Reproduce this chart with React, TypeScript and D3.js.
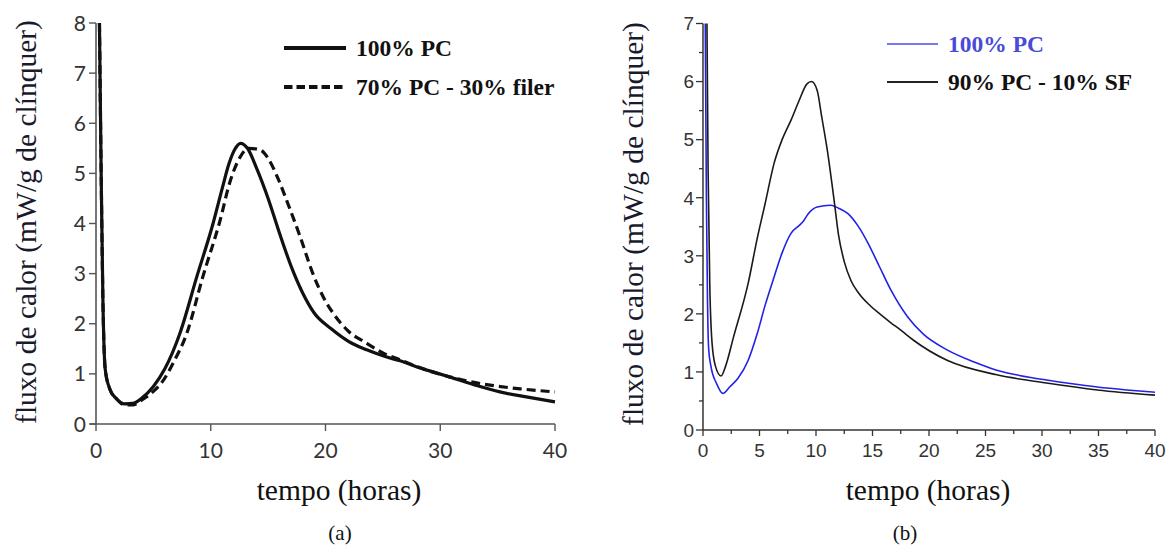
import React from "react";
import * as d3 from "d3";

// ---------- data (a) ----------
const tA_pc = [0.3, 0.45, 0.6, 0.8, 1.2, 1.8, 2.5, 3.2, 4.0, 5.0, 6.0, 7.3, 8.8, 10.2, 11.0, 11.6, 12.1, 12.6, 13.2, 14.0, 15.0, 16.0, 17.0, 18.0, 19.0, 20.5, 22.0, 23.6, 25.0, 26.5, 28.5, 30.8, 33.0, 35.2, 37.5, 40.0];
const vA_pc = [8.0, 5.0, 2.5, 1.1, 0.7, 0.5, 0.4, 0.41, 0.52, 0.75, 1.1, 1.8, 2.95, 4.0, 4.7, 5.2, 5.48, 5.6, 5.5, 5.1, 4.5, 3.8, 3.15, 2.62, 2.22, 1.9, 1.65, 1.48, 1.36, 1.26, 1.1, 0.94, 0.78, 0.64, 0.54, 0.44];
const tA_filer = [0.3, 0.45, 0.6, 0.8, 1.2, 1.8, 2.5, 3.2, 4.0, 5.0, 5.8, 6.8, 7.9, 9.3, 10.8, 11.7, 12.5, 13.3, 14.3, 15.0, 15.8, 16.8, 17.8, 18.9, 20.0, 20.7, 22.0, 23.6, 25.0, 26.5, 28.5, 30.5, 32.3, 34.5, 37.0, 40.0];
const vA_filer = [8.0, 5.0, 2.5, 1.1, 0.7, 0.5, 0.38, 0.38, 0.48, 0.65, 0.85, 1.25, 1.8, 2.93, 4.05, 4.85, 5.3, 5.5, 5.47, 5.3, 4.93, 4.35, 3.73, 3.0, 2.45, 2.2, 1.85, 1.61, 1.42, 1.28, 1.1, 0.96, 0.86, 0.77, 0.7, 0.64];
const xTicksA = [0, 10, 20, 30, 40];
const yTicksA = [0, 1, 2, 3, 4, 5, 6, 7, 8];

// ---------- data (b) ----------
const tB_pc = [0.2, 0.3, 0.4, 0.5, 0.7, 1.2, 1.75, 2.4, 3.1, 4.0, 4.8, 5.5, 6.3, 7.0, 7.8, 8.5, 8.9, 9.3, 10.1, 11.3, 12.0, 12.8, 13.7, 14.6, 15.6, 16.6, 18.1, 19.5, 21.6, 24.0, 26.0, 28.0, 30.4, 32.5, 34.9, 37.5, 40.0];
const vB_pc = [7.0, 4.0, 2.2, 1.4, 1.1, 0.8, 0.63, 0.75, 0.89, 1.2, 1.66, 2.15, 2.64, 3.05, 3.39, 3.52, 3.6, 3.72, 3.84, 3.87, 3.82, 3.73, 3.52, 3.22, 2.82, 2.42, 1.95, 1.65, 1.38, 1.17, 1.03, 0.94, 0.86, 0.8, 0.74, 0.69, 0.65];
const tB_sf = [0.35, 0.45, 0.6, 0.8, 1.1, 1.6, 2.0, 2.7, 4.0, 4.8, 5.5, 6.3, 7.0, 7.8, 8.5, 9.2, 9.6, 10.1, 10.5, 11.0, 11.6, 12.0, 12.5, 13.1, 13.8, 14.8, 15.7, 16.6, 17.5, 18.6, 21.6, 26.0, 30.4, 34.9, 40.0];
const vB_sf = [7.0, 4.5, 2.5, 1.5, 1.1, 0.93, 1.1, 1.6, 2.53, 3.3, 3.9, 4.6, 5.0, 5.34, 5.67, 5.96, 6.0, 5.85, 5.4, 4.82, 3.96, 3.35, 2.9, 2.57, 2.35, 2.14, 1.99, 1.85, 1.72, 1.55, 1.2, 0.95, 0.81, 0.69, 0.6];
const xTicksB = [0, 5, 10, 15, 20, 25, 30, 35, 40];
const yTicksB = [0, 1, 2, 3, 4, 5, 6, 7];

const yTitle = "fluxo de calor (mW/g de clínquer)";
const xTitle = "tempo (horas)";

const zip = (t: number[], v: number[]) => t.map((x, i) => [x, v[i]] as [number, number]);

export default function App() {
  // panel (a)
  const xA = d3.scaleLinear().domain([0, 40]).range([96, 555]);
  const yA = d3.scaleLinear().domain([0, 8]).range([424, 23]);
  const lineA = d3.line<[number, number]>().x(d => xA(d[0])).y(d => yA(d[1])).curve(d3.curveMonotoneX);
  // panel (b)
  const xB = d3.scaleLinear().domain([0, 40]).range([703, 1155]);
  const yB = d3.scaleLinear().domain([0, 7]).range([430, 23.5]);
  const lineB = d3.line<[number, number]>().x(d => xB(d[0])).y(d => yB(d[1])).curve(d3.curveMonotoneX);

  const serif = "'Liberation Serif', 'Times New Roman', serif";
  const axA = "#555";
  const minorB = d3.range(0, 40.01, 2.5);
  const minorYB = d3.range(0, 7.01, 0.5);

  return (
    <svg width={1173} height={547} style={{ position: "absolute", left: 0, top: 0, background: "#fff" }}>
      <defs>
        <clipPath id="clipA"><rect x={96} y={20} width={462} height={405} /></clipPath>
        <clipPath id="clipB"><rect x={702} y={23} width={456} height={408} /></clipPath>
      </defs>
      <rect width={1173} height={547} fill="#fff" />

      {/* ---------- Panel (a) ---------- */}
      <g>
        <path d={lineA(zip(tA_filer, vA_filer)) || ""} fill="none" stroke="#111" strokeWidth={3.2} strokeDasharray="9,5" clipPath="url(#clipA)" />
        <path d={lineA(zip(tA_pc, vA_pc)) || ""} fill="none" stroke="#111" strokeWidth={3.2} clipPath="url(#clipA)" />
        <line x1={xA(0)} x2={xA(0)} y1={yA(8)} y2={yA(0)} stroke={axA} strokeWidth={1.6} />
        <line x1={xA(0) - 6} x2={xA(40)} y1={yA(0)} y2={yA(0)} stroke={axA} strokeWidth={1.6} />
        {yTicksA.map(v => (
          <g key={"ya" + v}>
            <line x1={xA(0) - 7} x2={xA(0)} y1={yA(v)} y2={yA(v)} stroke={axA} strokeWidth={1.4} />
            <text x={xA(0) - 10} y={yA(v)} dy="0.36em" textAnchor="end" fontFamily="Lato, 'Open Sans', sans-serif" fontSize={21} fill="#333">{v}</text>
          </g>
        ))}
        {xTicksA.map(v => (
          <g key={"xa" + v}>
            <line x1={xA(v)} x2={xA(v)} y1={yA(0)} y2={yA(0) + 7} stroke={axA} strokeWidth={1.4} />
            <text x={xA(v)} y={yA(0) + 26} dy="0.36em" textAnchor="middle" fontFamily="Lato, 'Open Sans', sans-serif" fontSize={21} fill="#333">{v}</text>
          </g>
        ))}
        <text transform={`translate(36,222) rotate(-90)`} textAnchor="middle" fontFamily={serif} fontSize={29.5} fill="#1a1a2e">{yTitle}</text>
        <text x={339} y={500} textAnchor="middle" fontFamily={serif} fontSize={29.5} fill="#111">{xTitle}</text>
        <text x={340} y={540} textAnchor="middle" fontFamily={serif} fontSize={21} fill="#111">(a)</text>
        {/* legend */}
        <line x1={284} x2={346} y1={48} y2={48} stroke="#111" strokeWidth={4} />
        <text x={356} y={56} fontFamily={serif} fontWeight="bold" fontSize={23.5} fill="#111">100% PC</text>
        <line x1={284} x2={346} y1={87} y2={87} stroke="#111" strokeWidth={4} strokeDasharray="8.5,4" />
        <text x={356} y={95} fontFamily={serif} fontWeight="bold" fontSize={23.5} fill="#111">70% PC - 30% filer</text>
      </g>

      {/* ---------- Panel (b) ---------- */}
      <g>
        <path d={lineB(zip(tB_pc, vB_pc)) || ""} fill="none" stroke="#2222e6" strokeWidth={1.6} clipPath="url(#clipB)" />
        <path d={lineB(zip(tB_sf, vB_sf)) || ""} fill="none" stroke="#1a1a1a" strokeWidth={1.6} clipPath="url(#clipB)" />
        <line x1={xB(0)} x2={xB(0)} y1={yB(7)} y2={yB(0)} stroke="#333" strokeWidth={1.5} />
        <line x1={xB(0)} x2={xB(40)} y1={yB(0)} y2={yB(0)} stroke="#333" strokeWidth={1.5} />
        {minorYB.map(v => (
          <line key={"myb" + v} x1={xB(0) - (Number.isInteger(v) ? 7 : 4)} x2={xB(0)} y1={yB(v)} y2={yB(v)} stroke="#333" strokeWidth={1.3} />
        ))}
        {yTicksB.map(v => (
          <text key={"yb" + v} x={xB(0) - 9} y={yB(v)} dy="0.36em" textAnchor="end" fontFamily="'Liberation Sans', Arial, sans-serif" fontSize={19} fill="#333">{v}</text>
        ))}
        {minorB.map(v => (
          <line key={"mxb" + v} x1={xB(v)} x2={xB(v)} y1={yB(0)} y2={yB(0) + (v % 5 === 0 ? 6 : 4)} stroke="#333" strokeWidth={1.3} />
        ))}
        {xTicksB.map(v => (
          <text key={"xb" + v} x={xB(v)} y={yB(0) + 20} dy="0.36em" textAnchor="middle" fontFamily="'Liberation Sans', Arial, sans-serif" fontSize={19} fill="#333">{v}</text>
        ))}
        <text transform={`translate(643,224) rotate(-90)`} textAnchor="middle" fontFamily={serif} fontSize={29.5} fill="#1a1a2e">{yTitle}</text>
        <text x={928} y={500} textAnchor="middle" fontFamily={serif} fontSize={29.5} fill="#111">{xTitle}</text>
        <text x={905} y={540} textAnchor="middle" fontFamily={serif} fontSize={21} fill="#111">(b)</text>
        {/* legend */}
        <line x1={887} x2={938} y1={44} y2={44} stroke="#4a4ae8" strokeWidth={1.6} />
        <text x={948} y={52} fontFamily={serif} fontWeight="bold" fontSize={23.5} fill="#4a4ad8">100% PC</text>
        <line x1={887} x2={938} y1={82} y2={82} stroke="#222" strokeWidth={1.8} />
        <text x={948} y={90} fontFamily={serif} fontWeight="bold" fontSize={23.5} fill="#111">90% PC - 10% SF</text>
      </g>
    </svg>
  );
}
